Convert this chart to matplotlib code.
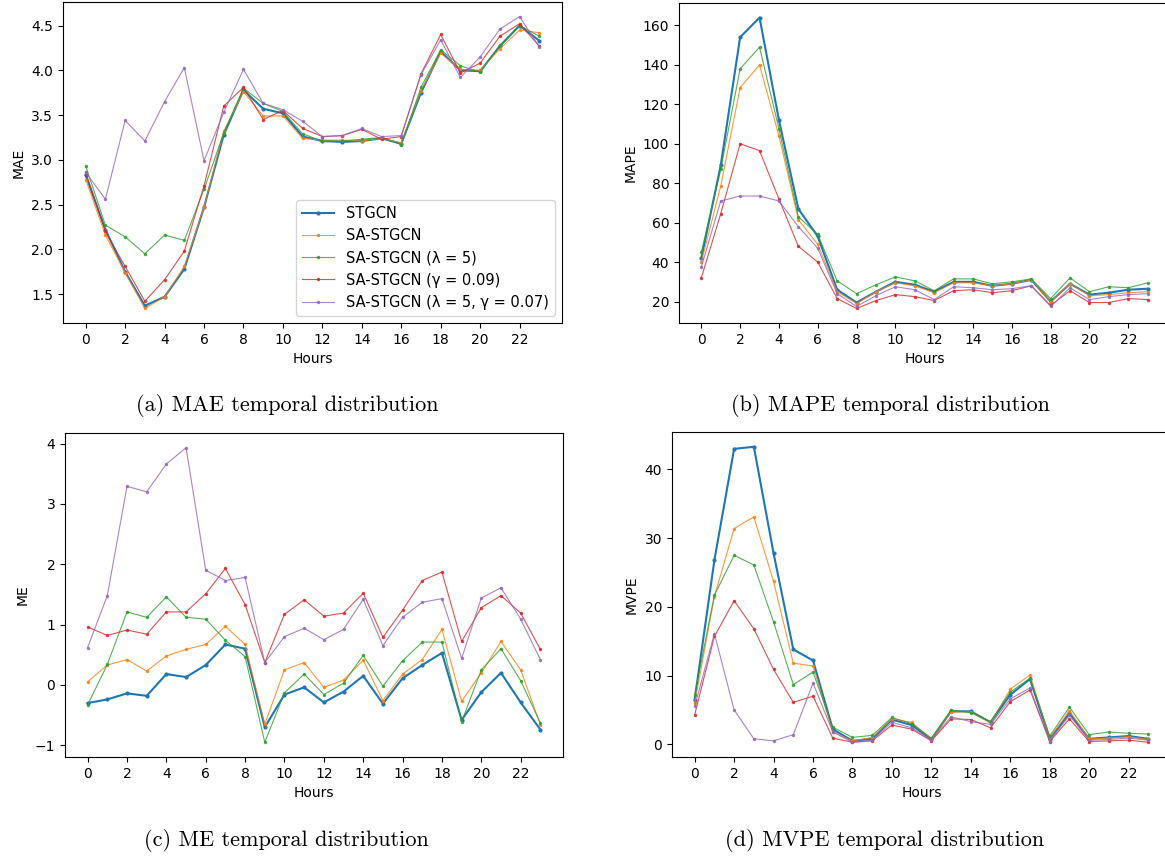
import matplotlib.pyplot as plt
import numpy as np

hours = list(range(24))
names = ["STGCN", "SA-STGCN", "SA-STGCN (λ = 5)", "SA-STGCN (γ = 0.09)", "SA-STGCN (λ = 5, γ = 0.07)"]

mae_stgcn = [2.83, 2.22, 1.75, 1.37, 1.47, 1.78, 2.47, 3.28, 3.78, 3.57, 3.52, 3.26, 3.21, 3.20, 3.21, 3.24, 3.18, 3.75, 4.21, 4.00, 3.99, 4.27, 4.50, 4.33]
mae_sa = [2.78, 2.16, 1.74, 1.34, 1.47, 1.81, 2.47, 3.32, 3.76, 3.49, 3.49, 3.24, 3.22, 3.22, 3.21, 3.24, 3.19, 3.77, 4.19, 4.01, 4.00, 4.24, 4.45, 4.42]
mae_l5 = [2.93, 2.27, 2.14, 1.95, 2.16, 2.10, 2.67, 3.30, 3.80, 3.63, 3.54, 3.29, 3.21, 3.21, 3.23, 3.25, 3.17, 3.81, 4.23, 4.05, 3.98, 4.28, 4.50, 4.38]
mae_g = [2.86, 2.20, 1.81, 1.42, 1.66, 1.98, 2.71, 3.60, 3.81, 3.45, 3.55, 3.35, 3.26, 3.27, 3.34, 3.23, 3.26, 3.96, 4.40, 3.97, 4.08, 4.38, 4.52, 4.27]
mae_lg = [2.86, 2.56, 3.44, 3.21, 3.65, 4.03, 2.99, 3.53, 4.01, 3.63, 3.56, 3.43, 3.26, 3.27, 3.35, 3.26, 3.27, 3.95, 4.34, 3.92, 4.15, 4.46, 4.60, 4.26]

mape_stgcn = [42, 89, 154, 164, 112, 67, 53, 26, 19.5, 25, 30, 28.5, 25, 30, 30, 28, 29, 31, 20, 29, 23.5, 24.5, 26, 26.5]
mape_sa = [40, 78.5, 128.5, 140, 104, 61.5, 49, 25, 19, 25, 29.5, 28, 24.5, 29.5, 29.5, 28, 29, 31, 20, 29, 23, 23.5, 24.5, 25]
mape_l5 = [45, 87, 138, 149, 107.5, 63, 54, 30.5, 24, 28.5, 32.5, 30.5, 25.5, 31.5, 31.5, 29, 30, 31.5, 21.5, 32, 25, 27.5, 27, 29.5]
mape_g = [32, 64.5, 100, 96.5, 72, 48, 40, 21.5, 16.5, 20.5, 23.5, 22.5, 20.5, 25.5, 26, 24.5, 25.5, 28, 18, 25.5, 19.5, 19.5, 21.5, 21]
mape_lg = [37.5, 71, 73.5, 73.5, 71, 58, 47, 24, 17.5, 23, 27.5, 26, 21, 27.5, 27, 26, 26.5, 28, 17.5, 27, 21, 22.5, 23.5, 24]

me_stgcn = [-0.30, -0.24, -0.14, -0.18, 0.18, 0.13, 0.33, 0.67, 0.60, -0.70, -0.16, -0.04, -0.29, -0.11, 0.15, -0.31, 0.11, 0.33, 0.53, -0.58, -0.12, 0.20, -0.29, -0.74]
me_sa = [0.05, 0.33, 0.42, 0.23, 0.48, 0.59, 0.67, 0.97, 0.67, -0.65, 0.25, 0.37, -0.04, 0.08, 0.41, -0.26, 0.18, 0.42, 0.92, -0.27, 0.20, 0.72, 0.25, -0.66]
me_l5 = [-0.33, 0.34, 1.21, 1.12, 1.46, 1.12, 1.09, 0.74, 0.47, -0.95, -0.13, 0.18, -0.16, 0.03, 0.49, -0.02, 0.40, 0.71, 0.71, -0.61, 0.25, 0.60, 0.07, -0.63]
me_g = [0.96, 0.82, 0.91, 0.84, 1.21, 1.21, 1.51, 1.93, 1.33, 0.37, 1.17, 1.41, 1.14, 1.19, 1.52, 0.79, 1.24, 1.73, 1.87, 0.72, 1.28, 1.48, 1.19, 0.59]
me_lg = [0.62, 1.48, 3.29, 3.20, 3.66, 3.93, 1.90, 1.73, 1.78, 0.37, 0.80, 0.94, 0.75, 0.92, 1.42, 0.65, 1.12, 1.37, 1.43, 0.44, 1.44, 1.61, 1.09, 0.42]

mvpe_stgcn = [6.5, 26.8, 43.0, 43.3, 27.8, 13.8, 12.2, 2.2, 0.5, 0.8, 3.6, 2.8, 0.7, 4.8, 4.8, 3.2, 7.2, 9.5, 0.8, 4.5, 0.8, 1.0, 1.2, 0.8]
mvpe_sa = [6.0, 21.5, 31.4, 33.1, 23.7, 11.8, 11.4, 1.8, 0.5, 1.0, 3.7, 3.2, 0.8, 4.7, 4.7, 3.1, 8.0, 10.1, 0.9, 4.9, 0.8, 0.9, 1.1, 0.7]
mvpe_l5 = [7.2, 21.7, 27.5, 26.1, 17.8, 8.7, 10.5, 2.5, 1.0, 1.3, 3.9, 3.0, 0.9, 5.0, 4.6, 3.3, 7.6, 9.6, 1.2, 5.4, 1.4, 1.8, 1.6, 1.5]
mvpe_g = [4.3, 15.7, 20.9, 16.8, 10.9, 6.1, 7.0, 0.9, 0.3, 0.5, 2.8, 2.2, 0.5, 3.7, 3.6, 2.4, 6.2, 7.9, 0.4, 3.7, 0.4, 0.5, 0.6, 0.3]
mvpe_lg = [5.5, 16.1, 5.0, 0.8, 0.5, 1.4, 8.9, 1.8, 0.3, 0.6, 3.2, 2.4, 0.6, 4.0, 3.3, 2.9, 6.6, 8.2, 0.5, 4.2, 0.6, 0.7, 0.9, 0.6]

plt.rcParams['font.size'] = 10.5

W, H = 1165, 856
fig = plt.figure(figsize=(W / 100, H / 100), dpi=100)


def box(x0, x1, y0, y1):
    # pixel box (y from top) -> figure fraction
    return [x0 / W, 1 - y1 / H, (x1 - x0) / W, (y1 - y0) / H]


panels = [
    (box(63, 562, 2, 323), "MAE", [mae_stgcn, mae_sa, mae_l5, mae_g, mae_lg], "(a) MAE temporal distribution", 287, 405),
    (box(679, 1170, 3, 323), "MAPE", [mape_stgcn, mape_sa, mape_l5, mape_g, mape_lg], "(b) MAPE temporal distribution", 890, 405),
    (box(65, 563, 433, 757), "ME", [me_stgcn, me_sa, me_l5, me_g, me_lg], "(c) ME temporal distribution", 286, 840),
    (box(672, 1171, 432, 757), "MVPE", [mvpe_stgcn, mvpe_sa, mvpe_l5, mvpe_g, mvpe_lg], "(d) MVPE temporal distribution", 885, 840),
]

colors = ['tab:blue', 'tab:orange', 'tab:green', 'tab:red', 'tab:purple']

for i, (pos, ylab, series, cap, cx, cy) in enumerate(panels):
    ax = fig.add_axes(pos)
    for j, vals in enumerate(series):
        if j == 0:
            ax.plot(hours, vals, marker='.', ms=4, lw=1.5, color=colors[j], label=names[j])
        else:
            ax.plot(hours, vals, marker='.', ms=3, lw=0.8, alpha=0.8, color=colors[j], label=names[j])
    ax.set_xticks(range(0, 24, 2))
    ax.tick_params(labelsize=10)
    ax.set_xlabel('Hours', fontsize=10)
    ax.set_ylabel(ylab, fontsize=10)
    if i == 0:
        ax.legend(loc='lower right', fontsize=10.5, handlelength=2.2)
    fig.text(cx / W, 1 - cy / H, cap, ha='center', va='center', fontsize=16, family='cmr10')

plt.savefig('out.png', dpi=100)
